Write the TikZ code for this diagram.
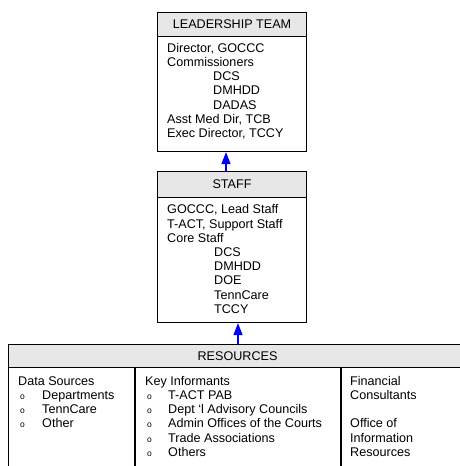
\documentclass[tikz,border=0pt]{standalone}
\usepackage{fontspec}
\setmainfont{Liberation Sans}
\usetikzlibrary{arrows.meta,calc}
\definecolor{hdgray}{RGB}{231,231,231}
\definecolor{arrowblue}{RGB}{0,0,255}
\newcommand{\diafont}{\fontsize{12.6}{14.2}\selectfont}
\newcommand{\bul}[1]{\hspace*{2pt}\makebox[#1][l]{\fontsize{8.5}{14.2}\selectfont o}}
\begin{document}
\begin{tikzpicture}[x=1pt,y=-1pt,
  box/.style={draw=black,line width=1.1pt,rectangle,inner sep=0pt,anchor=north west,font=\diafont},
  head/.style={box,fill=hdgray},
  txt/.style={inner sep=0pt,anchor=north west,align=left,font=\diafont},
  link/.style={draw=arrowblue,line width=1.3pt,-{Triangle[length=12pt,width=9pt]}}]
\clip (0,0) rectangle (460,466);
\fill[white] (0,0) rectangle (460,466);

% Leadership team
\node[head,minimum width=149pt,minimum height=24pt] (lhead) at (157,12) {LEADERSHIP TEAM};
\node[box,minimum width=149pt,minimum height=115pt] (lbody) at (157,36) {};
\node[txt] (ltext) at ($(lbody.north west)+(10,7)$) {Director, GOCCC\\Commissioners\\
\hspace*{46pt}DCS\\\hspace*{46pt}DMHDD\\\hspace*{46pt}DADAS\\Asst Med Dir, TCB\\Exec Director, TCCY};

% Staff
\node[head,minimum width=149pt,minimum height=26pt] (shead) at (157,171) {STAFF};
\node[box,minimum width=149pt,minimum height=125pt] (sbody) at (157,197) {};
\node[txt] (stext) at ($(sbody.north west)+(10,7.5)$) {GOCCC, Lead Staff\\T-ACT, Support Staff\\Core Staff\\
\hspace*{47pt}DCS\\\hspace*{47pt}DMHDD\\\hspace*{47pt}DOE\\\hspace*{47pt}TennCare\\\hspace*{47pt}TCCY};

% Resources
\node[head,minimum width=458pt,minimum height=23pt] (rhead) at (8,344) {RESOURCES};
\node[box,minimum width=458pt,minimum height=130pt] (rbody) at (8,367) {};
\coordinate (c1) at (135,0);
\coordinate (c2) at (341,0);
\draw[line width=1.1pt] (rbody.north -| c1) -- (rbody.south -| c1);
\draw[line width=1.1pt] (rbody.north -| c2) -- (rbody.south -| c2);
\node[txt] (r1text) at ($(rbody.north west)+(10,9)$) {Data Sources\\\bul{22pt}Departments\\\bul{22pt}TennCare\\\bul{22pt}Other};
\node[txt] (r2text) at ($(rbody.north -| c1)+(10,9)$) {Key Informants\\\bul{21pt}T-ACT PAB\\\bul{21pt}Dept ‘l Advisory Councils\\\bul{21pt}Admin Offices of the Courts\\\bul{21pt}Trade Associations\\\bul{21pt}Others};
\node[txt] (r3text) at ($(rbody.north -| c2)+(9,9)$) {Financial\\Consultants\\[14.2pt]Office of\\Information\\Resources};

% Connectors
\coordinate (a1) at (226,0);
\coordinate (a2) at (238,0);
\draw[link] (shead.north -| a1) -- (lbody.south -| a1);
\draw[link] (rhead.north -| a2) -- (sbody.south -| a2);
\end{tikzpicture}
\end{document}
